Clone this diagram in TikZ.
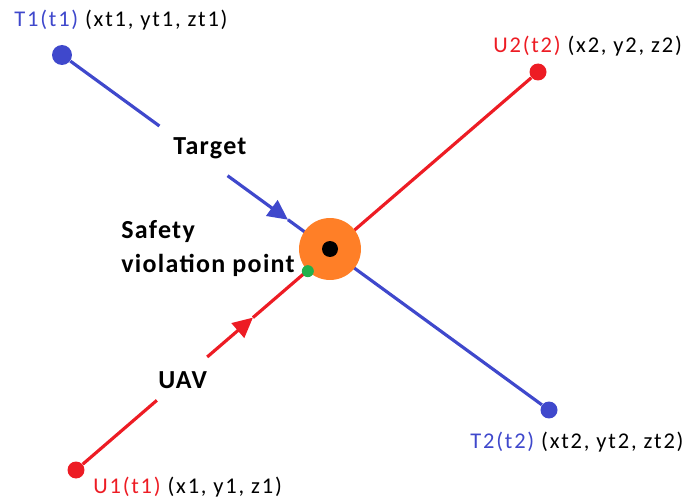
\documentclass[tikz,border=0pt]{standalone}
\usepackage{fontspec}
\setmainfont{Carlito}
\newfontfamily\coordfont{Carlito}[LetterSpace=8]
\newfontfamily\tagfont{Carlito}[LetterSpace=5]
\usepackage{tikz}
\usetikzlibrary{arrows.meta,positioning,calc}
\definecolor{tgtcol}{HTML}{3F48CC}
\definecolor{uavcol}{HTML}{ED1C24}
\definecolor{svpcol}{HTML}{FF7F27}
\definecolor{misscol}{HTML}{22B14C}

\begin{document}
\begin{tikzpicture}[x=0.02cm,y=-0.02cm,
  dot/.style={circle,inner sep=0pt,minimum size=0.34cm},
  track/.style={line width=1.8pt},
  tip/.style={-{Triangle[length=0.4cm,width=0.38cm]}},
  coord/.style={font=\coordfont\fontsize{12.8}{15}\selectfont,inner sep=0pt,anchor=base west},
  tag/.style={font=\tagfont\bfseries\fontsize{14.8}{19.8}\selectfont,inner sep=0pt,anchor=base west,align=left}]
  \useasboundingbox (0,0) rectangle (683,503);
  % end points of both tracks
  \node[dot,fill=tgtcol,minimum size=0.4cm] (t1) at (62,55) {};
  \node[dot,fill=tgtcol] (t2) at (549,410) {};
  \node[dot,fill=uavcol] (u1) at (76,470) {};
  \node[dot,fill=uavcol] (u2) at (538,72) {};
  \coordinate (tga) at ($(t1)!0.2!(t2)$);  \coordinate (tgb) at ($(t1)!0.34!(t2)$);
  \coordinate (tarr) at ($(t1)!0.464!(t2)$);
  \coordinate (uva) at ($(u1)!0.175!(u2)$); \coordinate (uvb) at ($(u1)!0.284!(u2)$);
  \coordinate (uarr) at ($(u1)!0.383!(u2)$);
  % target track
  \draw[track,tgtcol] (t1) -- (tga);
  \draw[track,tgtcol,tip] (tgb) -- (tarr);
  \draw[track,tgtcol] (tarr) -- (t2);
  % uav track
  \draw[track,uavcol] (u1) -- (uva);
  \draw[track,uavcol,tip] (uvb) -- (uarr);
  \draw[track,uavcol] (uarr) -- (u2);
  % violation point
  \node[dot,fill=svpcol,minimum size=1.24cm] (svp) at (330,249) {};
  \node[dot,fill=black,minimum size=0.32cm] (core) at (svp) {};
  \node[dot,fill=misscol,minimum size=0.24cm] (miss) at (svp.south west) {};
  % labels
  \node[coord] (t1lbl) at (14,27) {\textcolor{tgtcol}{T1(t1)} (xt1, yt1, zt1)};
  \node[coord] (u2lbl) at (493,53) {\textcolor{uavcol}{U2(t2)} (x2, y2, z2)};
  \node[coord] (t2lbl) at (470,448) {\textcolor{tgtcol}{T2(t2)} (xt2, yt2, zt2)};
  \node[coord] (u1lbl) at (93,493) {\textcolor{uavcol}{U1(t1)} (x1, y1, z1)};
  \node[tag] (target) at (173,155) {Target};
  \node[tag] (uav) at (158,388) {UAV};
  \node[tag] (svptxt) at (121,273) {Safety\\violation point};
\end{tikzpicture}
\end{document}
